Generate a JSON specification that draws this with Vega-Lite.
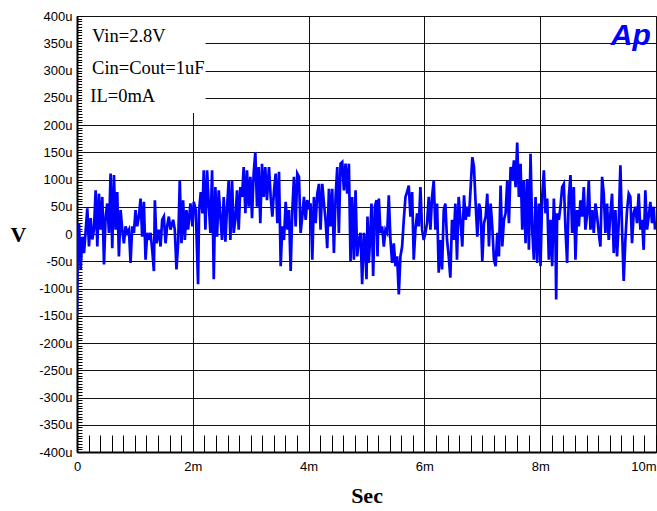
{
  "$schema": "https://vega.github.io/schema/vega-lite/v6.json",
  "width": 579,
  "height": 436,
  "autosize": {"type": "none"},
  "padding": {"left": 77, "top": 16, "right": 1, "bottom": 59},
  "background": "white",
  "config": {
    "view": {"stroke": "#000", "strokeWidth": 1},
    "axis": {"labelFont": "Liberation Sans", "labelColor": "#000", "titleColor": "#000"}
  },
  "resolve": {"axis": {"x": "independent", "y": "independent"}},
  "layer": [
    {
      "data": {"values": [{"t0": 0.09, "t1": 2.22, "v0": 222, "v1": 398}]},
      "mark": {"type": "rect", "fill": "white"},
      "encoding": {
        "x": {"field": "t0", "type": "quantitative", "scale": {"domain": [0, 10], "nice": false},
          "axis": {"orient": "bottom", "tickCount": 50, "tickSize": -17, "tickColor": "#000", "tickWidth": 1, "labels": false, "domain": false, "grid": false, "title": null}},
        "x2": {"field": "t1"},
        "y": {"field": "v0", "type": "quantitative", "scale": {"domain": [-400, 400], "nice": false}, "axis": null},
        "y2": {"field": "v1"}
      }
    },
    {
      "data": {"values": [
        {"t":0,"v":-150},{"t":0.011,"v":-30},{"t":0.034,"v":20},{"t":0.063,"v":-65},{"t":0.092,"v":-5},{"t":0.121,"v":-35},{"t":0.149,"v":5},{"t":0.178,"v":47},{"t":0.207,"v":-23},{"t":0.236,"v":29},{"t":0.264,"v":-10},{"t":0.293,"v":8},{"t":0.322,"v":80},{"t":0.351,"v":-23},{"t":0.379,"v":74},{"t":0.408,"v":8},{"t":0.437,"v":68},{"t":0.466,"v":-56},{"t":0.494,"v":32},{"t":0.523,"v":56},{"t":0.552,"v":2},{"t":0.58,"v":111},{"t":0.609,"v":-26},{"t":0.638,"v":108},{"t":0.667,"v":8},{"t":0.695,"v":77},{"t":0.724,"v":-41},{"t":0.753,"v":44},{"t":0.782,"v":8},{"t":0.81,"v":-17},{"t":0.839,"v":14},{"t":0.868,"v":2},{"t":0.897,"v":8},{"t":0.925,"v":-53},{"t":0.954,"v":14},{"t":0.983,"v":2},{"t":1.011,"v":44},{"t":1.04,"v":14},{"t":1.069,"v":32},{"t":1.098,"v":65},{"t":1.126,"v":-5},{"t":1.155,"v":59},{"t":1.184,"v":-47},{"t":1.213,"v":2},{"t":1.241,"v":-11},{"t":1.27,"v":2},{"t":1.299,"v":-29},{"t":1.328,"v":-68},{"t":1.345,"v":62},{"t":1.374,"v":-17},{"t":1.414,"v":8},{"t":1.443,"v":-23},{"t":1.471,"v":26},{"t":1.5,"v":32},{"t":1.529,"v":-17},{"t":1.557,"v":14},{"t":1.586,"v":32},{"t":1.615,"v":8},{"t":1.661,"v":26},
        {"t":1.689,"v":8},{"t":1.718,"v":-65},{"t":1.747,"v":-17},{"t":1.775,"v":98},{"t":1.804,"v":-17},{"t":1.833,"v":62},{"t":1.862,"v":-11},{"t":1.89,"v":44},{"t":1.919,"v":8},{"t":1.959,"v":56},{"t":1.994,"v":14},{"t":2.017,"v":59},{"t":2.051,"v":44},{"t":2.091,"v":-92},{"t":2.109,"v":44},{"t":2.137,"v":77},{"t":2.166,"v":38},{"t":2.189,"v":117},{"t":2.218,"v":8},{"t":2.247,"v":117},{"t":2.275,"v":56},{"t":2.304,"v":2},{"t":2.333,"v":117},{"t":2.362,"v":-83},{"t":2.39,"v":86},{"t":2.419,"v":-5},{"t":2.448,"v":80},{"t":2.477,"v":32},{"t":2.505,"v":-11},{"t":2.534,"v":68},{"t":2.563,"v":-14},{"t":2.592,"v":50},{"t":2.62,"v":98},{"t":2.649,"v":-11},{"t":2.678,"v":98},{"t":2.706,"v":2},{"t":2.735,"v":26},{"t":2.764,"v":80},{"t":2.793,"v":8},{"t":2.821,"v":86},{"t":2.85,"v":68},{"t":2.879,"v":123},{"t":2.908,"v":38},{"t":2.936,"v":117},{"t":2.965,"v":50},{"t":2.994,"v":105},{"t":3.023,"v":29},{"t":3.051,"v":111},{"t":3.08,"v":150},{"t":3.109,"v":50},{"t":3.137,"v":123},{"t":3.166,"v":20},{"t":3.195,"v":129},{"t":3.224,"v":68},{"t":3.252,"v":123},{"t":3.281,"v":62},{"t":3.316,"v":123},
        {"t":3.345,"v":68},{"t":3.374,"v":32},{"t":3.403,"v":80},{"t":3.431,"v":111},{"t":3.46,"v":20},{"t":3.489,"v":114},{"t":3.518,"v":-59},{"t":3.546,"v":14},{"t":3.575,"v":-11},{"t":3.604,"v":59},{"t":3.633,"v":8},{"t":3.661,"v":44},{"t":3.69,"v":-68},{"t":3.719,"v":44},{"t":3.747,"v":105},{"t":3.776,"v":14},{"t":3.805,"v":111},{"t":3.834,"v":105},{"t":3.862,"v":2},{"t":3.891,"v":32},{"t":3.92,"v":68},{"t":3.949,"v":26},{"t":3.977,"v":62},{"t":4.006,"v":50},{"t":4.035,"v":56},{"t":4.064,"v":-47},{"t":4.092,"v":68},{"t":4.121,"v":20},{"t":4.15,"v":74},{"t":4.179,"v":92},{"t":4.207,"v":8},{"t":4.236,"v":92},{"t":4.265,"v":56},{"t":4.293,"v":26},{"t":4.322,"v":-26},{"t":4.351,"v":83},{"t":4.38,"v":14},{"t":4.408,"v":83},{"t":4.437,"v":-35},{"t":4.466,"v":68},{"t":4.495,"v":123},{"t":4.523,"v":2},{"t":4.552,"v":129},{"t":4.581,"v":132},{"t":4.61,"v":80},{"t":4.638,"v":129},{"t":4.667,"v":74},{"t":4.696,"v":129},{"t":4.724,"v":-50},{"t":4.753,"v":68},{"t":4.782,"v":-47},{"t":4.811,"v":80},{"t":4.839,"v":-41},{"t":4.868,"v":-11},{"t":4.897,"v":2},{"t":4.925,"v":-92},{"t":4.954,"v":2},
        {"t":4.971,"v":-11},{"t":5.0,"v":-83},{"t":5.017,"v":32},{"t":5.04,"v":-53},{"t":5.058,"v":-17},{"t":5.086,"v":56},{"t":5.115,"v":-77},{"t":5.144,"v":50},{"t":5.173,"v":62},{"t":5.19,"v":-41},{"t":5.213,"v":65},{"t":5.242,"v":2},{"t":5.27,"v":14},{"t":5.299,"v":-23},{"t":5.328,"v":8},{"t":5.357,"v":2},{"t":5.385,"v":71},{"t":5.414,"v":-11},{"t":5.443,"v":-53},{"t":5.471,"v":-17},{"t":5.5,"v":-59},{"t":5.529,"v":-41},{"t":5.558,"v":-111},{"t":5.586,"v":-41},{"t":5.615,"v":-23},{"t":5.644,"v":26},{"t":5.673,"v":68},{"t":5.701,"v":77},{"t":5.73,"v":89},{"t":5.759,"v":32},{"t":5.788,"v":77},{"t":5.816,"v":-47},{"t":5.845,"v":8},{"t":5.874,"v":38},{"t":5.903,"v":14},{"t":5.931,"v":86},{"t":5.96,"v":8},{"t":5.989,"v":-11},{"t":6.017,"v":2},{"t":6.046,"v":20},{"t":6.075,"v":68},{"t":6.104,"v":8},{"t":6.132,"v":68},{"t":6.161,"v":98},{"t":6.19,"v":8},{"t":6.219,"v":56},{"t":6.247,"v":-71},{"t":6.276,"v":-11},{"t":6.305,"v":-65},{"t":6.334,"v":44},{"t":6.362,"v":56},{"t":6.391,"v":-11},{"t":6.42,"v":-41},{"t":6.448,"v":-80},{"t":6.477,"v":26},{"t":6.506,"v":-11},{"t":6.535,"v":56},{"t":6.563,"v":-47},{"t":6.592,"v":68},{"t":6.627,"v":20},
        {"t":6.655,"v":-23},{"t":6.684,"v":71},{"t":6.713,"v":26},{"t":6.741,"v":50},{"t":6.77,"v":32},{"t":6.799,"v":86},{"t":6.828,"v":141},{"t":6.856,"v":123},{"t":6.885,"v":56},{"t":6.914,"v":-5},{"t":6.943,"v":56},{"t":6.971,"v":44},{"t":7.0,"v":-50},{"t":7.029,"v":20},{"t":7.058,"v":32},{"t":7.086,"v":74},{"t":7.115,"v":-23},{"t":7.144,"v":56},{"t":7.172,"v":14},{"t":7.201,"v":-47},{"t":7.23,"v":-59},{"t":7.259,"v":2},{"t":7.287,"v":-41},{"t":7.316,"v":89},{"t":7.345,"v":-23},{"t":7.374,"v":26},{"t":7.402,"v":38},{"t":7.431,"v":98},{"t":7.46,"v":20},{"t":7.489,"v":123},{"t":7.517,"v":98},{"t":7.546,"v":135},{"t":7.575,"v":86},{"t":7.603,"v":168},{"t":7.632,"v":68},{"t":7.661,"v":129},{"t":7.69,"v":8},{"t":7.718,"v":98},{"t":7.747,"v":-17},{"t":7.776,"v":101},{"t":7.805,"v":-29},{"t":7.833,"v":147},{"t":7.862,"v":8},{"t":7.891,"v":-47},{"t":7.92,"v":68},{"t":7.948,"v":-53},{"t":7.977,"v":56},{"t":8.006,"v":-59},{"t":8.034,"v":68},{"t":8.063,"v":117},{"t":8.092,"v":38},{"t":8.121,"v":65},{"t":8.149,"v":-47},{"t":8.178,"v":26},{"t":8.207,"v":-59},{"t":8.236,"v":65},{"t":8.264,"v":-11},{"t":8.276,"v":-120},
        {"t":8.293,"v":38},{"t":8.322,"v":26},{"t":8.35,"v":50},{"t":8.379,"v":86},{"t":8.408,"v":92},{"t":8.437,"v":8},{"t":8.465,"v":-53},{"t":8.494,"v":68},{"t":8.523,"v":108},{"t":8.552,"v":2},{"t":8.58,"v":86},{"t":8.609,"v":-47},{"t":8.638,"v":44},{"t":8.667,"v":14},{"t":8.695,"v":62},{"t":8.724,"v":32},{"t":8.753,"v":86},{"t":8.781,"v":8},{"t":8.81,"v":35},{"t":8.839,"v":98},{"t":8.868,"v":8},{"t":8.896,"v":44},{"t":8.925,"v":2},{"t":8.954,"v":56},{"t":8.983,"v":32},{"t":9.011,"v":2},{"t":9.04,"v":-23},{"t":9.069,"v":105},{"t":9.098,"v":74},{"t":9.126,"v":2},{"t":9.155,"v":56},{"t":9.184,"v":-11},{"t":9.213,"v":38},{"t":9.241,"v":74},{"t":9.27,"v":-35},{"t":9.299,"v":44},{"t":9.327,"v":-41},{"t":9.356,"v":20},{"t":9.385,"v":126},{"t":9.414,"v":8},{"t":9.442,"v":-86},{"t":9.471,"v":-11},{"t":9.5,"v":44},{"t":9.529,"v":74},{"t":9.557,"v":68},{"t":9.586,"v":-17},{"t":9.615,"v":38},{"t":9.644,"v":50},{"t":9.672,"v":20},{"t":9.701,"v":74},{"t":9.73,"v":8},{"t":9.759,"v":26},{"t":9.787,"v":-29},{"t":9.816,"v":80},{"t":9.845,"v":8},{"t":9.874,"v":32},{"t":9.902,"v":59},{"t":9.931,"v":20},{"t":9.96,"v":50},{"t":9.983,"v":8}
      ]},
      "mark": {"type": "line", "color": "#0000FF", "strokeWidth": 2.7, "clip": true},
      "encoding": {
        "x": {"field": "t", "type": "quantitative", "scale": {"domain": [0, 10], "nice": false},
          "axis": {"orient": "bottom", "values": [0, 2, 4, 6, 8, 10], "grid": true, "gridColor": "#111", "gridWidth": 1, "ticks": false,
            "domain": true, "domainColor": "#000", "domainWidth": 2,
            "labelExpr": "datum.value == 0 ? '0' : datum.value + 'm'", "labelFontSize": 13, "labelPadding": 8,
            "labelAlign": {"condition": {"test": "datum.value == 10", "value": "right"}, "value": "center"},
            "title": "Sec", "titleFont": "Liberation Serif", "titleFontSize": 22, "titleFontWeight": "bold", "titlePadding": 12}},
        "y": {"field": "v", "type": "quantitative", "scale": {"domain": [-400, 400], "nice": false},
          "axis": {"orient": "left", "values": [-400,-350,-300,-250,-200,-150,-100,-50,0,50,100,150,200,250,300,350,400],
            "grid": true, "gridColor": "#111", "gridWidth": 1, "ticks": false,
            "domain": true, "domainColor": "#000", "domainWidth": 2,
            "labelExpr": "datum.value == 0 ? '0' : datum.value + 'u'", "labelFontSize": 13, "labelPadding": 5,
            "title": "V", "titleAngle": 0, "titleX": -59, "titleY": 218, "titleAlign": "center", "titleBaseline": "middle",
            "titleFont": "Liberation Serif", "titleFontSize": 22, "titleFontWeight": "bold"}}
      }
    },
    {
      "data": {"values": [
        {"label": "Vin=2.8V", "t": 0.26, "v": 363},
        {"label": "Cin=Cout=1uF", "t": 0.26, "v": 305},
        {"label": "IL=0mA", "t": 0.23, "v": 253}
      ]},
      "mark": {"type": "text", "align": "left", "baseline": "middle", "font": "Liberation Serif", "fontSize": 18.5, "color": "#000"},
      "encoding": {
        "x": {"field": "t", "type": "quantitative", "axis": null},
        "y": {"field": "v", "type": "quantitative",
          "axis": {"orient": "left", "tickCount": 160, "tickSize": -5, "tickColor": "#000", "tickWidth": 1, "labels": false, "domain": false, "grid": false, "title": null}},
        "text": {"field": "label"}
      }
    },
    {
      "data": {"values": [{"label": "Ap", "t": 9.22, "v": 347}]},
      "mark": {"type": "text", "align": "left", "baseline": "alphabetic", "font": "Liberation Sans", "fontSize": 30, "fontWeight": "bold", "fontStyle": "italic", "color": "#0000FF"},
      "encoding": {
        "x": {"field": "t", "type": "quantitative", "axis": null},
        "y": {"field": "v", "type": "quantitative", "axis": null},
        "text": {"field": "label"}
      }
    }
  ]
}
